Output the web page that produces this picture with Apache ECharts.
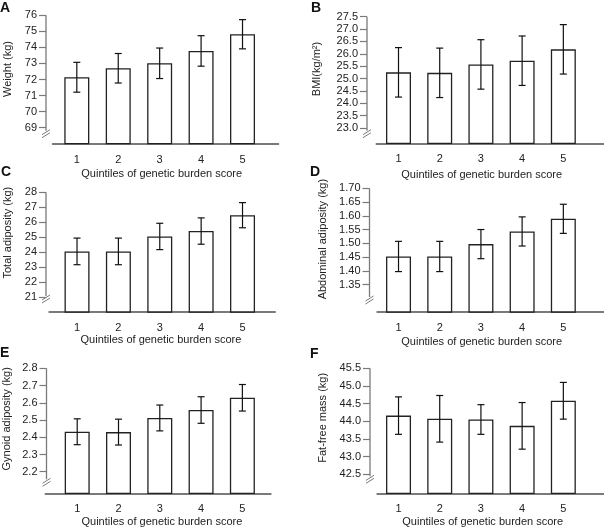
<!DOCTYPE html>
<html><head><meta charset="utf-8">
<script src="https://cdn.jsdelivr.net/npm/echarts@6/dist/echarts.min.js"></script>
<style>html,body{margin:0;padding:0;background:#fff}#c{width:604px;height:529px}</style>
</head><body><div id="c"></div>
<script>
// ---- data ----
const categories = ['1', '2', '3', '4', '5'];
const quintiles = [1, 2, 3, 4, 5];
const xTitle = 'Quintiles of genetic burden score';

const weight = [72.14, 72.70, 73.01, 73.78, 74.82];
const weightErr = [0.93, 0.92, 0.95, 0.95, 0.91];
const weightTicks = [69, 70, 71, 72, 73, 74, 75, 76];

const bmi = [25.25, 25.23, 25.57, 25.72, 26.18];
const bmiErr = [1.0, 1.0, 1.0, 1.0, 1.0];
const bmiTicks = [23.0, 23.5, 24.0, 24.5, 25.0, 25.5, 26.0, 26.5, 27.0, 27.5];

const totalAdip = [24.05, 24.05, 25.05, 25.41, 26.47];
const totalAdipErr = [0.89, 0.89, 0.88, 0.88, 0.84];
const totalAdipTicks = [21, 22, 23, 24, 25, 26, 27, 28];

const abdAdip = [1.452, 1.452, 1.497, 1.543, 1.589];
const abdAdipErr = [0.055, 0.055, 0.053, 0.053, 0.053];
const abdAdipTicks = [1.35, 1.40, 1.45, 1.50, 1.55, 1.60, 1.65, 1.70];

const gynAdip = [2.432, 2.430, 2.512, 2.558, 2.629];
const gynAdipErr = [0.075, 0.075, 0.075, 0.077, 0.077];
const gynAdipTicks = [2.2, 2.3, 2.4, 2.5, 2.6, 2.7, 2.8];

const fatFree = [44.16, 44.07, 44.05, 43.87, 44.58];
const fatFreeErr = [0.53, 0.66, 0.42, 0.66, 0.52];
const fatFreeTicks = [42.5, 43.0, 43.5, 44.0, 44.5, 45.0, 45.5];

// ---- panel definitions (data + layout) ----
const panels = [
  { letter: 'A', yName: 'Weight (kg)', vals: weight, errs: weightErr, ticks: weightTicks, min: 68, dec: 0,
    grid: { left: 52.7, right: 325.7, top: 15.3, bottom: 385.3 }, xr: [0.418, 5.864], off: 6.7,
    yGap: 33, yShift: 10.5, xGap: 25, xShift: -3.8, brk: 10, lx: 0, ly: 7.8 },
  { letter: 'B', yName: 'BMI(kg/m\u00B2)', vals: bmi, errs: bmiErr, ticks: bmiTicks, min: 22.38, dec: 1,
    grid: { left: 376.5, right: 0.7, top: 16.7, bottom: 385.7 }, xr: [0.466, 5.97], off: 9.5,
    yGap: 45, yShift: 11, xGap: 25.7, xShift: -8.2, brk: 9.6, lx: 311, ly: 7.8 },
  { letter: 'C', yName: 'Total adiposity (kg)', vals: totalAdip, errs: totalAdipErr, ticks: totalAdipTicks, min: 20, dec: 0,
    grid: { left: 49.3, right: 329, top: 192.3, bottom: 217 }, xr: [0.33, 5.785], off: 3.3,
    yGap: 33, yShift: 19.5, xGap: 22, xShift: -1.2, brk: 13, lx: 1, ly: 171.7 },
  { letter: 'D', yName: 'Abdominal adiposity (kg)', vals: abdAdip, errs: abdAdipErr, ticks: abdAdipTicks, min: 1.25, dec: 2,
    grid: { left: 377.3, right: 0.7, top: 188.3, bottom: 217 }, xr: [0.485, 5.97], off: 7.8,
    yGap: 41, yShift: 11, xGap: 24.7, xShift: -8.6, brk: 12, lx: 310, ly: 171.7 },
  { letter: 'E', yName: 'Gynoid adiposity (kg)', vals: gynAdip, errs: gynAdipErr, ticks: gynAdipTicks, min: 2.075, dec: 1,
    grid: { left: 45, right: 333.3, top: 368.3, bottom: 35.7 }, xr: [0.232, 5.686], off: -1,
    yGap: 34.5, yShift: 12, xGap: 23.4, xShift: 3.8, brk: 11, lx: 0, ly: 353.3 },
  { letter: 'F', yName: 'Fat-free mass (kg)', vals: fatFree, errs: fatFreeErr, ticks: fatFreeTicks, min: 41.96, dec: 1,
    grid: { left: 377.3, right: 0.7, top: 368.3, bottom: 35.7 }, xr: [0.485, 5.97], off: 7.3,
    yGap: 41.8, yShift: 13, xGap: 23.4, xShift: -7.6, brk: 14, lx: 310, ly: 354.2 }
];

const FONT = "'Liberation Sans', Arial, Helvetica, sans-serif";
const TXT = '#222';
const AXC = '#7a7a7a';

const grids = [], xAxes = [], yAxes = [], series = [];
panels.forEach((p, i) => {
  grids.push(Object.assign({ containLabel: false }, p.grid));
  const sh = p.xShift;
  xAxes.push({
    type: 'value', gridIndex: i, min: p.xr[0], max: p.xr[1],
    splitLine: { show: false },
    axisLine: { show: true, onZero: false, lineStyle: { color: AXC, width: 2 } },
    axisTick: { show: false },
    axisLabel: { customValues: quintiles, formatter: v => categories[quintiles.indexOf(Math.round(v))] || '',
      color: TXT, fontFamily: FONT, fontSize: 11, margin: 10.5, showMinLabel: true, showMaxLabel: true, hideOverlap: false },
    name: xTitle, nameLocation: 'middle', nameGap: p.xGap,
    nameTextStyle: { color: TXT, fontFamily: FONT, fontSize: 11,
      padding: sh < 0 ? [0, -2 * sh, 0, 0] : [0, 0, 0, 2 * sh] }
  });
  const top = p.ticks[p.ticks.length - 1];
  yAxes.push({
    type: 'value', gridIndex: i, min: p.min, max: top, offset: p.off,
    splitLine: { show: false },
    axisLine: { show: false },
    axisTick: { show: true, customValues: p.ticks, length: 7, lineStyle: { color: AXC, width: 1.2 } },
    axisLabel: { customValues: p.ticks, formatter: v => Number(v).toFixed(p.dec),
      color: TXT, fontFamily: FONT, fontSize: 11, margin: 9, showMinLabel: true, showMaxLabel: true },
    name: p.yName, nameLocation: 'middle', nameGap: p.yGap, nameRotate: 90,
    nameTextStyle: { color: TXT, fontFamily: FONT, fontSize: 11, padding: [0, 0, 0, 2 * p.yShift] }
  });
  series.push({
    type: 'bar', xAxisIndex: i, yAxisIndex: i, barWidth: 25,
    data: quintiles.map((q, k) => [q, p.vals[k]]),
    itemStyle: { color: '#fff', borderColor: '#222', borderWidth: 1.3 },
    silent: true, animation: false
  });
  series.push({
    type: 'custom', xAxisIndex: i, yAxisIndex: i, z: 5, animation: false, silent: true,
    data: quintiles.map((q, k) => [q, p.vals[k] - p.errs[k], p.vals[k] + p.errs[k]]),
    encode: { x: 0, y: [1, 2] },
    renderItem: (params, api) => {
      const x = api.value(0);
      const lo = api.coord([x, api.value(1)]);
      const hi = api.coord([x, api.value(2)]);
      const hw = 3.5;
      const st = { stroke: '#111', lineWidth: 1.2 };
      return { type: 'group', children: [
        { type: 'line', shape: { x1: hi[0], y1: hi[1], x2: lo[0], y2: lo[1] }, style: st },
        { type: 'line', shape: { x1: hi[0] - hw, y1: hi[1], x2: hi[0] + hw, y2: hi[1] }, style: st },
        { type: 'line', shape: { x1: lo[0] - hw, y1: lo[1], x2: lo[0] + hw, y2: lo[1] }, style: st }
      ] };
    }
  });
});

const chart = echarts.init(document.getElementById('c'), null, { renderer: 'canvas' });
chart.setOption({
  animation: false,
  backgroundColor: '#fff',
  grid: grids, xAxis: xAxes, yAxis: yAxes, series: series
});

// axis lines with break marks, and panel letters
const g = [];
panels.forEach((p, i) => {
  const left = chart.convertToPixel({ xAxisIndex: i }, p.xr[0]);
  const ax = left - p.off;
  const yTop = chart.convertToPixel({ yAxisIndex: i }, p.ticks[p.ticks.length - 1]);
  const yBase = chart.convertToPixel({ yAxisIndex: i }, p.min);
  const yc = yBase - p.brk;
  g.push({ type: 'line', shape: { x1: ax, y1: yTop, x2: ax, y2: yc - 3 }, style: { stroke: AXC, lineWidth: 1.3 } });
  g.push({ type: 'line', shape: { x1: ax - 4, y1: yc + 1, x2: ax + 4, y2: yc - 4 }, style: { stroke: AXC, lineWidth: 1 } });
  g.push({ type: 'line', shape: { x1: ax - 4, y1: yc + 4, x2: ax + 4, y2: yc - 1 }, style: { stroke: AXC, lineWidth: 1 } });
  g.push({ type: 'text', x: p.lx, y: p.ly, style: { text: p.letter, fontFamily: FONT, fontWeight: 'bold', fontSize: 14,
    fill: '#111', verticalAlign: 'middle', align: 'left' } });
});
chart.setOption({ graphic: { elements: g } });
</script>
</body></html>
